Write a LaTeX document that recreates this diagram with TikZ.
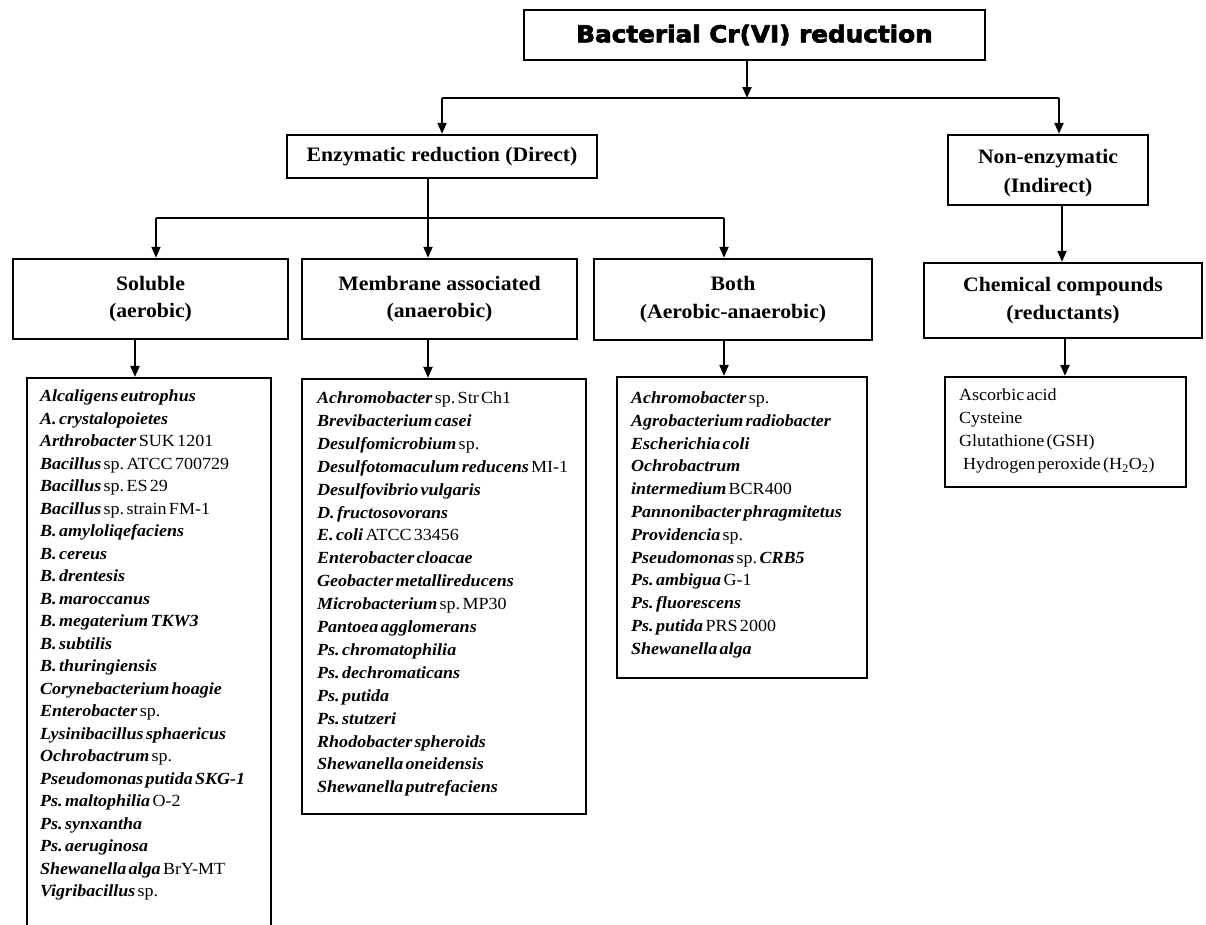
\documentclass[tikz,border=0pt]{standalone}
\usepackage{fontspec}
\setmainfont{Liberation Serif}[FakeStretch=1.06]
\newfontfamily\titlefont{DejaVu Sans}[UprightFont={* Bold},FakeBold=3,FakeStretch=1.06]
\usetikzlibrary{arrows.meta}
\newcommand\bi[1]{\textbf{\textit{#1}}}
\newcommand\tightsp{\spaceskip=0.14em plus 0.04em\relax}
\frenchspacing
\tikzset{
  box/.style={draw, line width=2.4pt, inner sep=0pt, align=center},
  frm/.style={draw, line width=2.2pt, inner sep=0pt},
  ln/.style={line width=2pt},
  arr/.style={ln, -{Triangle[length=11pt,width=9pt]}},
  hdr/.style={box, font=\fontsize{20.5}{27.5}\selectfont\bfseries},
  listtxt/.style={anchor=base west, align=left, inner sep=0pt, text width=265pt},
}
\newcommand\listfont[1]{\fontsize{17}{#1}\selectfont}
\begin{document}
\begin{tikzpicture}[x=1pt,y=-1pt]
\useasboundingbox (0,0) rectangle (1206,924);
\fill[white] (0,0) rectangle (1206,924);
\clip (0,0) rectangle (1206,924);

% headers
\node[box, minimum width=461pt, minimum height=50pt, font=\titlefont\fontsize{23.3}{28}\selectfont] (title) at (754.5,35) {Bacterial Cr(VI) reduction};
\node[hdr, minimum width=310pt, minimum height=43pt] (enz) at (442,156.5) {Enzymatic reduction (Direct)};
\node[hdr, minimum width=200pt, minimum height=70pt] (non) at (1048,170) {\rule{0pt}{20pt}Non-enzymatic\\[1.5pt](Indirect)};
\node[hdr, minimum width=275pt, minimum height=80pt] (sol) at (150.5,299) {Soluble\\(aerobic)};
\node[hdr, minimum width=275pt, minimum height=80pt] (mem) at (439.5,299) {Membrane associated\\(anaerobic)};
\node[hdr, minimum width=278pt, minimum height=81pt] (both) at (733,299.5) {Both\\(Aerobic-anaerobic)};
\node[hdr, minimum width=278pt, minimum height=75pt] (chem) at (1063,300.5) {Chemical compounds\\(reductants)};

% list frames
\node[frm, minimum width=244pt, minimum height=557pt] (solF) at (149,656.5) {};
\node[frm, minimum width=284pt, minimum height=435pt] (memF) at (444,596.5) {};
\node[frm, minimum width=250pt, minimum height=301pt] (bothF) at (742,527.5) {};
\node[frm, minimum width=241pt, minimum height=110pt] (chemF) at (1065.5,432) {};

% list texts
\node[listtxt, font=\listfont{22.5}] (solT) at (40,401.5) {\tightsp
\bi{Alcaligens eutrophus}\\
\bi{A. crystalopoietes}\\
\bi{Arthrobacter} SUK 1201\\
\bi{Bacillus} sp. ATCC 700729\\
\bi{Bacillus} sp. ES 29\\
\bi{Bacillus} sp. strain FM-1\\
\bi{B. amyloliqefaciens}\\
\bi{B. cereus}\\
\bi{B. drentesis}\\
\bi{B. maroccanus}\\
\bi{B. megaterium TKW3}\\
\bi{B. subtilis}\\
\bi{B. thuringiensis}\\
\bi{Corynebacterium hoagie}\\
\bi{Enterobacter} sp.\\
\bi{Lysinibacillus sphaericus}\\
\bi{Ochrobactrum} sp.\\
\bi{Pseudomonas putida SKG-1}\\
\bi{Ps. maltophilia} O-2\\
\bi{Ps. synxantha}\\
\bi{Ps. aeruginosa}\\
\bi{Shewanella alga} BrY-MT\\
\bi{Vigribacillus} sp.};

\node[listtxt, font=\listfont{22.9}] (memT) at (317,403.5) {\tightsp
\bi{Achromobacter} sp. Str Ch1\\
\bi{Brevibacterium casei}\\
\bi{Desulfomicrobium} sp.\\
\bi{Desulfotomaculum reducens} MI-1\\
\bi{Desulfovibrio vulgaris}\\
\bi{D. fructosovorans}\\
\bi{E. coli} ATCC 33456\\
\bi{Enterobacter cloacae}\\
\bi{Geobacter metallireducens}\\
\bi{Microbacterium} sp. MP30\\
\bi{Pantoea agglomerans}\\
\bi{Ps. chromatophilia}\\
\bi{Ps. dechromaticans}\\
\bi{Ps. putida}\\
\bi{Ps. stutzeri}\\
\bi{Rhodobacter spheroids}\\
\bi{Shewanella oneidensis}\\
\bi{Shewanella putrefaciens}};

\node[listtxt, font=\listfont{22.8}] (bothT) at (631,403.5) {\tightsp
\bi{Achromobacter} sp.\\
\bi{Agrobacterium radiobacter}\\
\bi{Escherichia coli}\\
\bi{Ochrobactrum}\\
\bi{intermedium} BCR400\\
\bi{Pannonibacter phragmitetus}\\
\bi{Providencia} sp.\\
\bi{Pseudomonas} sp. \bi{CRB5}\\
\bi{Ps. ambigua} G-1\\
\bi{Ps. fluorescens}\\
\bi{Ps. putida} PRS 2000\\
\bi{Shewanella alga}};

\node[listtxt, font=\listfont{23}] (chemT) at (959,400.5) {\tightsp
Ascorbic acid\\
Cysteine\\
Glutathione (GSH)\\
\hspace*{4pt}Hydrogen peroxide (H\textsubscript{2}O\textsubscript{2})};

% connector coordinates
\coordinate (jt) at (747,98);
\coordinate (h1L) at (442,98);
\coordinate (h1R) at (1059,98);
\coordinate (h2) at (428,218);
\coordinate (h2L) at (156,218);
\coordinate (h2R) at (724,218);
\coordinate (xs) at (135,0);
\coordinate (xn) at (1062,0);
\coordinate (xc) at (1065,0);

% connectors
\draw[arr] (title.south -| jt) -- (jt);
\draw[ln] (h1L) -- (h1R);
\draw[arr] (h1L) -- (enz.north -| h1L);
\draw[arr] (h1R) -- (non.north -| h1R);
\draw[ln] (enz.south -| h2) -- (h2);
\draw[ln] (h2L) -- (h2R);
\draw[arr] (h2) -- (mem.north -| h2);
\draw[arr] (h2L) -- (sol.north -| h2L);
\draw[arr] (h2R) -- (both.north -| h2R);
\draw[arr] (non.south -| xn) -- (chem.north -| xn);
\draw[arr] (sol.south -| xs) -- (solF.north -| xs);
\draw[arr] (mem.south -| h2) -- (memF.north -| h2);
\draw[arr] (both.south -| h2R) -- (bothF.north -| h2R);
\draw[arr] (chem.south -| xc) -- (chemF.north -| xc);
\end{tikzpicture}
\end{document}
